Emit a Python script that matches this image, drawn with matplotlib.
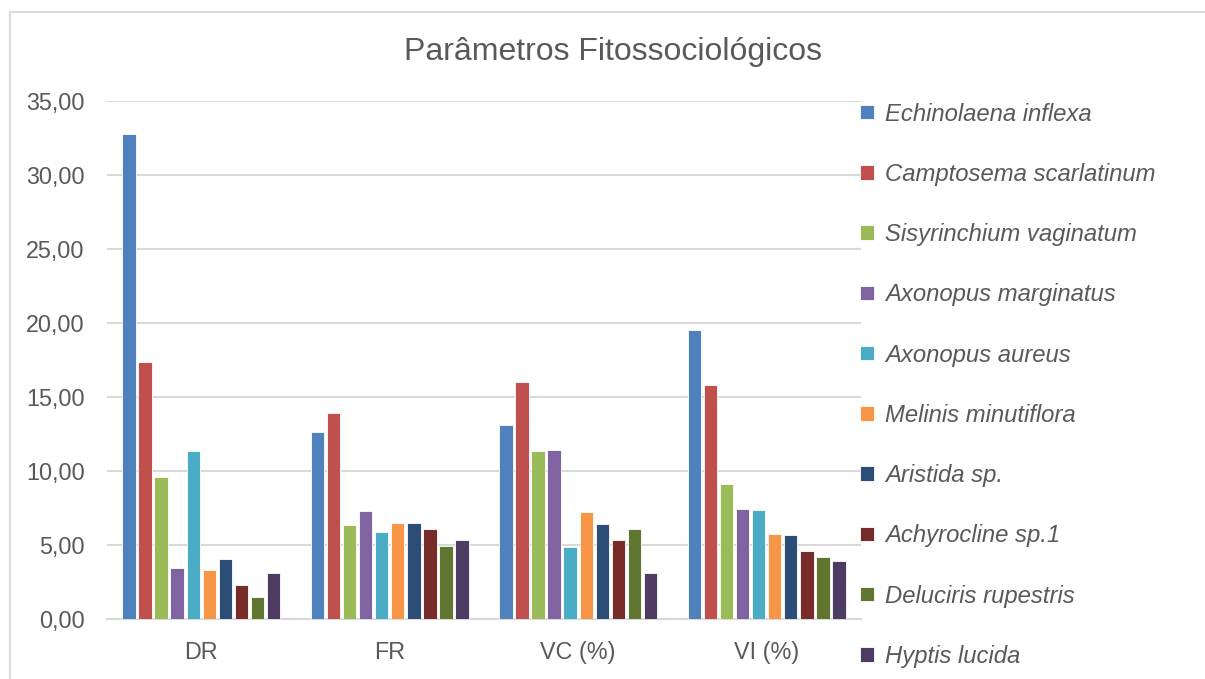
import numpy as np
import matplotlib
matplotlib.use("Agg")
import matplotlib.pyplot as plt
from matplotlib.patches import Rectangle
from matplotlib.ticker import FuncFormatter

plt.rcParams['font.family'] = ['Liberation Sans', 'DejaVu Sans']

# %% data
categories = ['DR', 'FR', 'VC (%)', 'VI (%)']
species = ['Echinolaena inflexa', 'Camptosema scarlatinum', 'Sisyrinchium vaginatum',
           'Axonopus marginatus', 'Axonopus aureus', 'Melinis minutiflora',
           'Aristida sp.', 'Achyrocline sp.1', 'Deluciris rupestris', 'Hyptis lucida']
dr = [32.78, 17.38, 9.62, 3.44, 11.35, 3.30, 4.07, 2.32, 1.47, 3.09]
fr = [12.61, 13.90, 6.34, 7.32, 5.90, 6.48, 6.48, 6.06, 4.94, 5.33]
vc = [13.10, 15.98, 11.38, 11.44, 4.83, 7.25, 6.41, 5.33, 6.07, 3.08]
vi = [19.50, 15.79, 9.14, 7.44, 7.38, 5.72, 5.70, 4.59, 4.16, 3.89]
colors = ['#4F81BD', '#C0504D', '#9BBB59', '#8064A2', '#4BACC6',
          '#F79646', '#2C4D75', '#772C2A', '#5F7530', '#4D3B62']

values = np.array([dr, fr, vc, vi])  # rows = categories

# %% plot
fig = plt.figure(figsize=(12.05, 6.79), dpi=100)
ax = fig.add_axes([0.0888, 0.0884, 0.6257, 0.7629])

x = np.arange(len(categories))
n = len(species)
pitch = 0.85 / n
for i, sp in enumerate(species):
    ax.bar(x - 0.425 + pitch * (i + 0.5), values[:, i], width=pitch * 0.84,
           color=colors[i], edgecolor='white', linewidth=0.6, label=sp, zorder=3)

ax.set_xlim(-0.5, len(categories) - 0.5)
ax.set_ylim(0, 35)
ax.set_yticks(np.arange(0, 36, 5))
ax.yaxis.set_major_formatter(FuncFormatter(lambda v, p: f'{v:.2f}'.replace('.', ',')))
ax.set_xticks(x)
ax.set_xticklabels(categories)
ax.grid(axis='y', color='#D9D9D9', linewidth=1.5, zorder=0)
for s in ['top', 'right', 'left']:
    ax.spines[s].set_visible(False)
ax.spines['bottom'].set_color('#D9D9D9')
ax.spines['bottom'].set_linewidth(1.5)
ax.tick_params(axis='both', length=0, labelsize=16.8, colors='#595959')
ax.tick_params(axis='y', pad=16)
ax.tick_params(axis='x', pad=16)

fig.text(0.509, 0.923, 'Parâmetros Fitossociológicos', ha='center', va='center',
         fontsize=23, color='#595959')

leg = ax.legend(loc='upper left', bbox_to_anchor=(0.714, 0.849),
                bbox_transform=fig.transFigure, frameon=False,
                prop={'size': 17.2, 'style': 'italic'}, handlelength=0.55,
                handleheight=0.55, handletextpad=0.5, labelspacing=1.56,
                borderaxespad=0, borderpad=0)
for t in leg.get_texts():
    t.set_color('#595959')

# outer chart border
fig.patches.append(Rectangle((10 / 1205, -0.01), 1.05, 1 - 12 / 679 + 0.01,
                             transform=fig.transFigure, fill=False,
                             edgecolor='#D9D9D9', linewidth=1.5))

fig.savefig('out.png', dpi=100)
